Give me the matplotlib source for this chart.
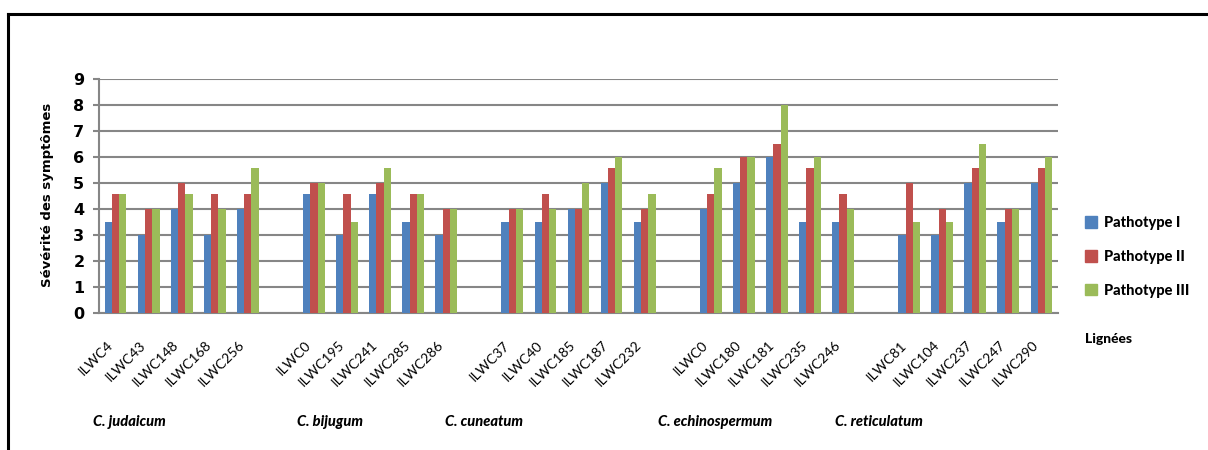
import matplotlib

matplotlib.use("Agg")
import matplotlib.pyplot as plt  # noqa: E402
import matplotlib.transforms as mtransforms  # noqa: E402
import numpy as np  # noqa: E402
from matplotlib.lines import Line2D  # noqa: E402
from matplotlib.patches import Patch  # noqa: E402

# species groups and their accessions (5 per species)
species = ["C. judaicum", "C. bijugum", "C. cuneatum", "C. echinospermum", "C. reticulatum"]
lignees = [
    ["ILWC4", "ILWC43", "ILWC148", "ILWC168", "ILWC256"],
    ["ILWC0", "ILWC195", "ILWC241", "ILWC285", "ILWC286"],
    ["ILWC37", "ILWC40", "ILWC185", "ILWC187", "ILWC232"],
    ["ILWC0", "ILWC180", "ILWC181", "ILWC235", "ILWC246"],
    ["ILWC81", "ILWC104", "ILWC237", "ILWC247", "ILWC290"],
]

# symptom severity per pathotype, same order as lignees (flattened)
pathotype_1 = [3.5, 3, 4, 3, 4,
               4.56, 3, 4.56, 3.5, 3,
               3.5, 3.5, 4, 5, 3.5,
               4, 5, 6, 3.5, 3.5,
               3, 3, 5, 3.5, 5]
pathotype_2 = [4.56, 4, 5, 4.56, 4.56,
               5, 4.56, 5, 4.56, 4,
               4, 4.56, 4, 5.56, 4,
               4.56, 6, 6.5, 5.56, 4.56,
               5, 4, 5.56, 4, 5.56]
pathotype_3 = [4.56, 4, 4.56, 4, 5.56,
               5, 3.5, 5.56, 4.56, 4,
               4, 4, 5, 6, 4.56,
               5.56, 6, 8, 6, 4,
               3.5, 3.5, 6.5, 4, 6]

series = [("Pathotype I", pathotype_1, "#4F81BD"),
          ("Pathotype II", pathotype_2, "#C0504D"),
          ("Pathotype III", pathotype_3, "#9BBB59")]

W, H = 1208, 450
fig = plt.figure(figsize=(W / 100, H / 100), dpi=100)
ax = fig.add_axes([99 / W, 1 - 312.7 / H, (1058 - 99) / W, (312.7 - 79) / H])

# one empty slot between species groups
x = np.array([g * 6 + i for g in range(len(species)) for i in range(5)], dtype=float)
labels = [lab for grp in lignees for lab in grp]

bw = 0.22
for k, (name, vals, col) in enumerate(series):
    ax.bar(x + (k - 1) * bw, vals, width=bw, color=col, zorder=3, linewidth=0)

grid_col = "#868686"
ax.set_xlim(-0.5, len(species) * 6 - 1.5)
ax.set_ylim(0, 9)
ax.set_yticks(range(10))
ax.yaxis.grid(True, color=grid_col, linewidth=1.5, zorder=0)
for side in ("top", "right"):
    ax.spines[side].set_visible(False)
for side in ("left", "bottom"):
    ax.spines[side].set_color(grid_col)
    ax.spines[side].set_linewidth(1.5)

ax.tick_params(axis="y", length=4.5, width=1.5, color=grid_col, pad=6)
for t in ax.get_yticklabels():
    t.set_fontfamily("DejaVu Sans")
    t.set_fontweight("bold")
    t.set_fontsize(11.5)

ax.set_xticks(x)
ax.set_xticklabels(labels, rotation=45, ha="right", va="center", rotation_mode="anchor",
                   fontsize=10, family="Lato")
ax.tick_params(axis="x", length=0, pad=19)
# nudge rotated accession labels down-left
shift = mtransforms.ScaledTranslation(-5 / 100, -4 / 100, fig.dpi_scale_trans)
for t in ax.get_xticklabels():
    t.set_transform(t.get_transform() + shift)

# y label
fig.text(48 / W, 1 - 195 / H, "Sévérité des symptômes", rotation=90, ha="center",
         va="center", fontsize=9.5, fontweight="bold", family="DejaVu Sans")

# species names under the accession labels
species_x = [93, 297, 445, 658, 835]
for sx, name in zip(species_x, species):
    fig.text(sx / W, 1 - 422 / H, name, ha="left", va="center", fontsize=10.5,
             fontweight="black", style="italic", family="Lato")

fig.text(1085 / W, 1 - 339 / H, "Lignées", ha="left", va="center", fontsize=10,
         fontweight="black", family="Lato")

handles = [Patch(color=c, label=n) for n, _, c in series]
fig.legend(handles=handles, loc="center left", bbox_to_anchor=(1085 / W, 1 - 257 / H),
           frameon=False, borderpad=0, borderaxespad=0, handlelength=0.85,
           handleheight=0.85, handletextpad=0.45, labelspacing=1.35,
           prop={"family": "Lato", "weight": "black", "size": 10.5})

# frame lines along top and left edge
fig.add_artist(Line2D([8 / W, 1], [1 - 14 / H, 1 - 14 / H], color="black", linewidth=2.2))
fig.add_artist(Line2D([8 / W, 8 / W], [0, 1 - 14 / H], color="black", linewidth=2.2))

fig.savefig("out.png", dpi=100)
